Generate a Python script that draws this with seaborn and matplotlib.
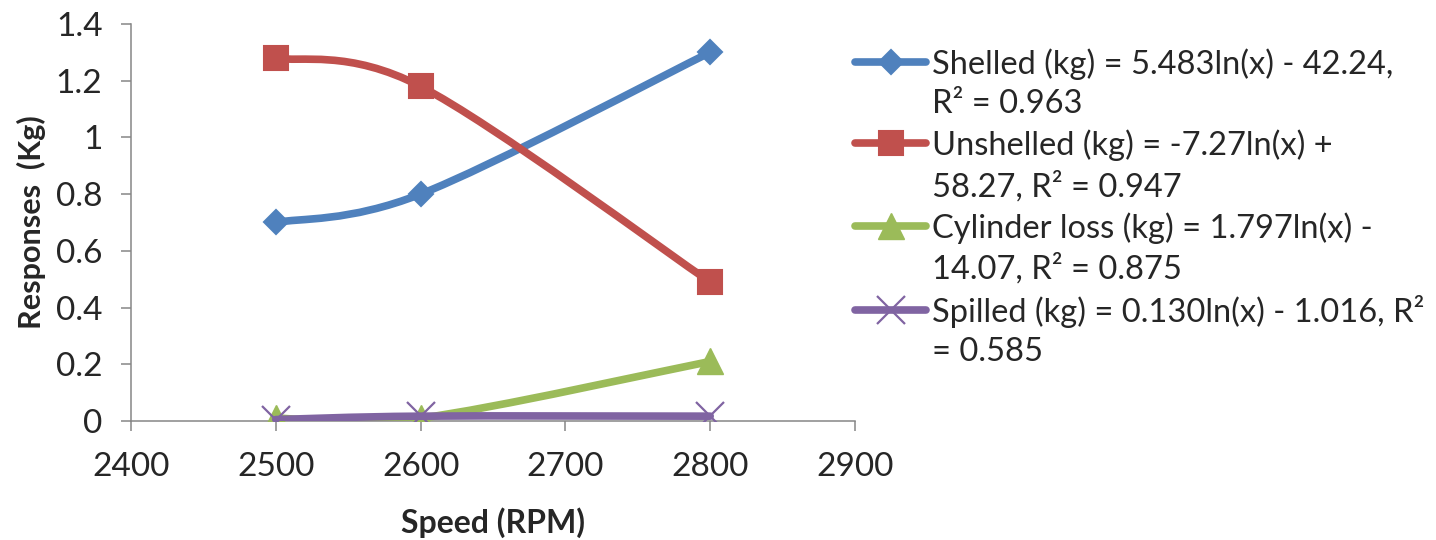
import matplotlib
matplotlib.use("Agg")
import matplotlib.pyplot as plt
import numpy as np
import seaborn as sns
from matplotlib.lines import Line2D
from matplotlib.path import Path
from matplotlib.patches import PathPatch

# Data
speed = [2500, 2600, 2800]
shelled = [0.70, 0.80, 1.30]
unshelled = [1.28, 1.18, 0.49]
cylinder_loss = [0.01, 0.01, 0.21]
spilled = [0.005, 0.017, 0.017]

series_names = ["Shelled", "Unshelled", "Cylinder loss", "Spilled"]
legend_lines = [
    ("Shelled (kg) = 5.483ln(x) - 42.24,", "R² = 0.963"),
    ("Unshelled (kg) = -7.27ln(x) +", "58.27, R² = 0.947"),
    ("Cylinder loss (kg) = 1.797ln(x) -", "14.07, R² = 0.875"),
    ("Spilled (kg) = 0.130ln(x) - 1.016, R²", "= 0.585"),
]
x_ticks = [2400, 2500, 2600, 2700, 2800, 2900]
y_ticks = [0, 0.2, 0.4, 0.6, 0.8, 1, 1.2, 1.4]
y_ticklabels = ["0", "0.2", "0.4", "0.6", "0.8", "1", "1.2", "1.4"]

colors = ["#4F81BD", "#C0504D", "#9BBB59", "#8064A2"]
styles = [
    dict(marker="D", markersize=12, mew=1.5),
    dict(marker="s", markersize=17, mew=1.5),
    dict(marker="^", markersize=19, mew=1.0),
    dict(marker="x", markersize=20, mew=1.6),
]

sns.set_style("white")
plt.rcParams["font.family"] = ["Lato", "DejaVu Sans"]


def smooth_path(x, y):
    """Excel-like smoothed line: cubic Bezier through the points."""
    pts = np.column_stack([x, y]).astype(float)
    ext = np.vstack([pts[0], pts, pts[-1]])
    verts = [pts[0]]
    codes = [Path.MOVETO]
    for i in range(len(pts) - 1):
        p0, p1, p2, p3 = ext[i], ext[i + 1], ext[i + 2], ext[i + 3]
        verts += [p1 + (p2 - p0) / 6, p2 - (p3 - p1) / 6, p2]
        codes += [Path.CURVE4] * 3
    return Path(verts, codes)


fig = plt.figure(figsize=(14.36, 5.4), dpi=100)
ax = fig.add_axes([0.0912, 0.2204, 0.5042, 0.7352])

all_values = [shelled, unshelled, cylinder_loss, spilled]
for k, (vals, c, st) in enumerate(zip(all_values, colors, styles)):
    ax.add_patch(PathPatch(smooth_path(speed, vals), fill=False, edgecolor=c,
                           lw=5.5, capstyle="round", joinstyle="round",
                           zorder=2 + 2 * k))
    sns.lineplot(x=speed, y=vals, ax=ax, color=c, lw=0, marker=st["marker"],
                 markersize=st["markersize"], mec=c, mfc=c, mew=st["mew"],
                 zorder=3 + 2 * k)

ax.set_xlim(2400, 2900)
ax.set_ylim(0, 1.4)
ax.set_xticks(x_ticks)
ax.set_yticks(y_ticks)
ax.set_yticklabels(y_ticklabels)
ax.tick_params(axis="both", labelsize=24, length=7.5, width=1.1,
               color="#868686", direction="out", bottom=True, left=True)
ax.tick_params(axis="y", pad=13)
ax.tick_params(axis="x", pad=15)

for side in ["top", "right"]:
    ax.spines[side].set_visible(False)
for side in ["left", "bottom"]:
    ax.spines[side].set_color("#868686")
    ax.spines[side].set_linewidth(1.1)

ax.set_xlabel("Speed (RPM)", fontsize=23, fontweight="bold", labelpad=18)
ax.set_ylabel("Responses  (Kg)", fontsize=22, fontweight="bold", labelpad=7)

# Legend: two text rows per series, handle beside the first row
handles, labels = [], []
for (l1, l2), c, st in zip(legend_lines, colors, styles):
    handles.append(Line2D([], [], color=c, lw=5.5, solid_capstyle="round",
                          marker=st["marker"], markersize=st["markersize"],
                          mec=c, mfc=c, mew=st["mew"]))
    labels.append(l1)
    handles.append(Line2D([], [], lw=0, marker=None))
    labels.append(l2)

fig.legend(handles, labels, loc="upper left", bbox_to_anchor=(0.5954, 0.911),
           frameon=False, fontsize=23.5, handlelength=2.18, handletextpad=0.18,
           labelspacing=0.30, borderpad=0, borderaxespad=0)

fig.savefig("out.png", dpi=100)
